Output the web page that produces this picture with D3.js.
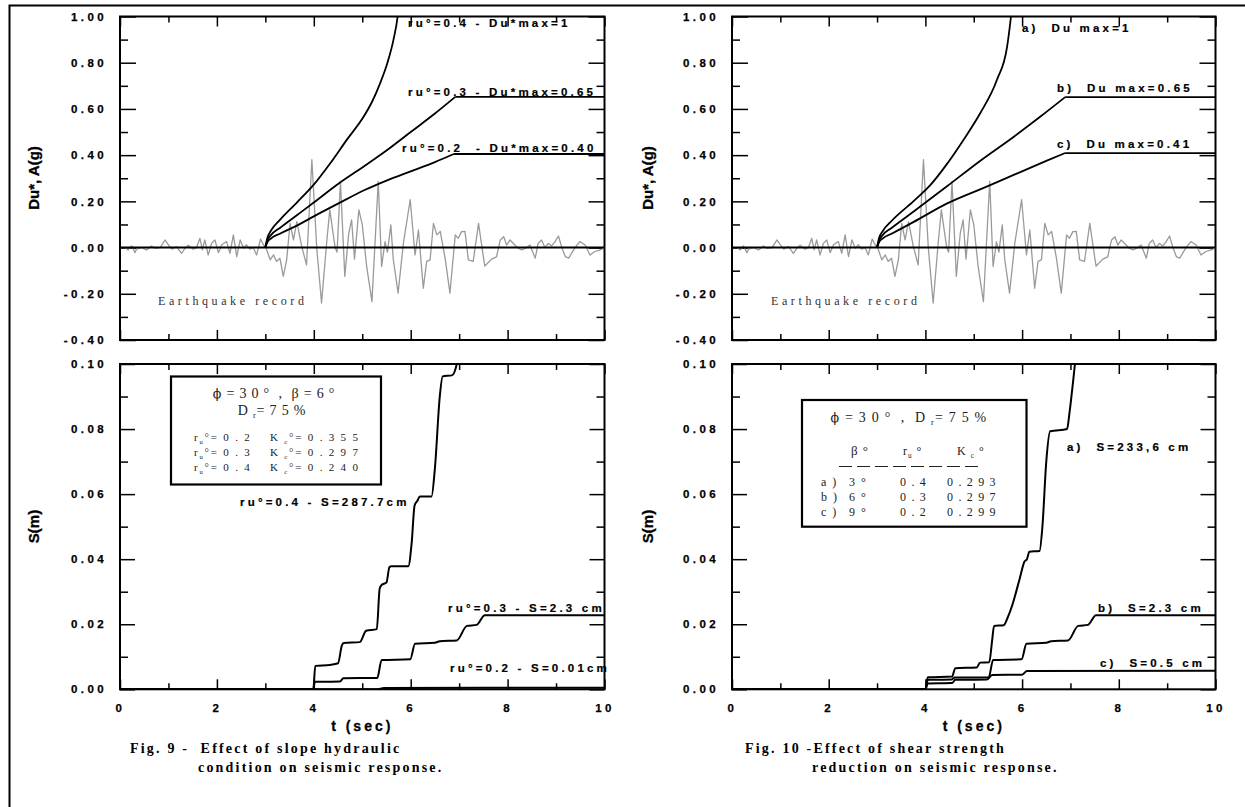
<!DOCTYPE html>
<html>
<head>
<meta charset="utf-8">
<script src="https://cdn.jsdelivr.net/npm/d3@7"></script>
<style>
body { margin: 0; background: #fff; }
svg { display: block; }
.tk text { font-family: "Liberation Sans", Arial, sans-serif; font-weight: bold; font-size: 11.5px; letter-spacing: 3.4px; fill: #000; stroke: #000; stroke-width: 0.25px; }
.tk line { stroke: #000; stroke-width: 1.5px; }
.ann { font-family: "Liberation Sans", Arial, sans-serif; font-weight: bold; font-size: 11.5px; letter-spacing: 3.2px; white-space: pre; stroke: #000; stroke-width: 0.2px; }
.ttl { font-family: "Liberation Sans", Arial, sans-serif; font-weight: bold; font-size: 15px; stroke: #000; stroke-width: 0.3px; }
.ser { font-family: "Liberation Serif", "Times New Roman", serif; fill: #222; white-space: pre; }
.phi { font-family: "DejaVu Serif", serif; fill: #222; }
.cap { font-family: "Liberation Serif", "Times New Roman", serif; font-weight: bold; font-size: 14px; letter-spacing: 2.2px; white-space: pre; }
</style>
</head>
<body>
<svg id="chart"></svg>
<script>
// ---- data ----
// acceleration record (g), t in s
const quakeRecord = [
  [0,0],[0.10,0.0],[0.17,-0.01],[0.24,0.007],[0.31,-0.022],[0.34,-0.007],[0.45,0],[0.55,-0.01],
  [0.65,0.007],[0.72,-0.003],[0.83,0],[0.93,0.033],[1.0,0.012],[1.07,-0.007],[1.17,0.004],
  [1.27,-0.025],[1.34,-0.003],[1.41,0.01],[1.51,-0.007],[1.58,0.0],[1.65,0.04],[1.70,-0.01],
  [1.75,0.033],[1.82,-0.032],[1.89,0.018],[1.96,0.033],[2.03,-0.022],[2.10,0.012],[2.20,0.026],
  [2.27,-0.025],[2.34,0.055],[2.41,-0.039],[2.48,0.033],[2.55,-0.003],[2.61,0.012],[2.68,-0.007],
  [2.75,0.0],[2.82,-0.032],[2.90,0.037],[2.96,0.012],[3.01,0],[3.10,-0.053],[3.17,-0.032],
  [3.23,-0.06],[3.30,-0.046],[3.37,-0.125],[3.44,-0.053],[3.51,0.105],[3.58,0.033],[3.65,0.112],
  [3.75,0.005],[3.85,-0.075],[3.96,0.38],[4.06,0.0],[4.16,-0.24],[4.27,0.033],[4.33,0.163],
  [4.44,0.0],[4.48,-0.02],[4.55,0.286],[4.64,-0.125],[4.72,0.06],[4.78,0.12],[4.84,-0.05],
  [4.93,0.163],[5.0,0.1],[5.09,-0.08],[5.2,-0.234],[5.33,0.286],[5.40,-0.082],[5.47,0.026],
  [5.52,-0.02],[5.59,0.098],[5.64,-0.05],[5.74,-0.197],[5.85,0.02],[5.99,0.207],[6.09,-0.032],
  [6.16,0.076],[6.26,-0.176],[6.33,-0.06],[6.40,-0.053],[6.47,0.105],[6.54,0.055],[6.61,0.07],
  [6.71,-0.046],[6.81,-0.197],[6.92,0.055],[6.98,0.04],[7.05,0.069],[7.12,0.07],[7.19,-0.053],
  [7.29,-0.06],[7.40,0.105],[7.50,-0.04],[7.53,-0.08],[7.67,-0.05],[7.77,-0.04],[7.85,0.033],
  [7.92,0.047],[7.98,0.011],[8.05,0.033],[8.15,0.011],[8.22,-0.003],[8.29,-0.01],[8.39,0.0],
  [8.46,0.011],[8.57,-0.046],[8.63,0.018],[8.70,0.033],[8.77,0.0],[8.84,0.018],[8.91,0.007],
  [8.98,0.026],[9.05,0.05],[9.12,0.0],[9.19,-0.039],[9.26,-0.046],[9.39,0.0],[9.49,0.026],
  [9.60,0.011],[9.70,-0.032],[9.80,-0.017],[9.91,-0.01],[10,0]
];

// Fig. 9 top: Du* for ru = 0.4, 0.3, 0.2
const duRu04 = [[3,0],[3.04,0.04],[3.12,0.075],[3.3,0.12],[3.65,0.195],[3.99,0.27],[4.34,0.365],
  [4.68,0.466],[5.03,0.567],[5.2,0.63],[5.37,0.712],[5.52,0.80],[5.645,0.90],[5.73,1.0],[5.76,1.06]];
const duRu03 = [[3,0],[3.04,0.03],[3.12,0.055],[3.3,0.085],[3.65,0.14],[4.0,0.195],[4.5,0.275],
  [5.06,0.355],[5.5,0.42],[6.0,0.50],[6.5,0.58],[6.92,0.652]];
const duRu02 = [[3,0],[3.04,0.022],[3.12,0.04],[3.3,0.06],[3.65,0.095],[4.0,0.135],[4.5,0.19],
  [5.06,0.25],[5.5,0.29],[6.0,0.33],[6.5,0.37],[6.89,0.405]];
const duMax9 = [1.0, 0.652, 0.405];

// Fig. 10 top: Du for cases a, b, c
const duCaseA = [[3,0],[3.04,0.04],[3.12,0.072],[3.3,0.115],[3.75,0.2],[4.10,0.27],[4.44,0.36],
  [4.79,0.467],[5.13,0.58],[5.48,0.726],[5.69,0.87],[5.77,1.0],[5.8,1.06]];
const duCaseB = [[3,0],[3.04,0.03],[3.12,0.055],[3.3,0.085],[3.75,0.155],[4.44,0.264],[5.13,0.375],
  [5.83,0.48],[6.38,0.567],[6.89,0.651]];
const duCaseC = [[3,0],[3.04,0.022],[3.12,0.04],[3.3,0.06],[3.75,0.11],[4.44,0.19],[5.34,0.27],
  [6.0,0.33],[6.5,0.375],[6.89,0.409]];
const duMax10 = [1.0, 0.651, 0.409];

// Fig. 9 bottom: cumulative displacement S (m)
const sRu04 = [[0,0],[3.99,0],[4.03,0.0072],[4.33,0.0075],[4.50,0.0080],[4.58,0.0135],[4.62,0.0142],
  [4.95,0.0145],[5.08,0.0180],[5.30,0.0185],[5.36,0.0310],[5.40,0.0321],[5.50,0.0328],[5.56,0.0375],
  [5.60,0.0378],[5.95,0.0378],[6.02,0.0450],[6.08,0.0565],[6.14,0.0580],[6.19,0.0593],[6.43,0.0593],
  [6.50,0.068],[6.60,0.090],[6.66,0.0962],[6.85,0.0965],[6.95,0.100],[6.98,0.104]];
const sRu03 = [[0,0],[3.99,0],[4.02,0.0023],[4.54,0.0024],[4.61,0.0034],[5.31,0.0035],[5.40,0.0090],
  [5.99,0.0092],[6.09,0.0140],[6.50,0.0143],[6.60,0.0148],[6.95,0.0150],[7.16,0.0195],[7.36,0.0198],
  [7.53,0.0228],[10,0.0228]];
const sRu02 = [[0,0],[5.3,0],[5.45,0.0004],[10,0.0005]];

// Fig. 10 bottom
const sCaseA = [[0,0],[4.0,0],[4.05,0.0037],[4.55,0.0039],[4.62,0.0065],[5.06,0.0067],[5.13,0.0082],
  [5.32,0.0083],[5.38,0.015],[5.42,0.0195],[5.62,0.0197],[5.70,0.022],[5.80,0.026],[5.95,0.034],
  [6.05,0.0393],[6.10,0.040],[6.15,0.0423],[6.36,0.0425],[6.42,0.05],[6.50,0.07],[6.58,0.0793],
  [6.93,0.080],[6.98,0.085],[7.05,0.094],[7.1,0.101],[7.12,0.104]];
const sCaseB = [[0,0],[4.0,0],[4.05,0.0029],[4.54,0.0030],[4.61,0.0036],[5.31,0.0037],[5.40,0.0090],
  [5.99,0.0092],[6.09,0.0140],[6.50,0.0143],[6.60,0.0148],[6.95,0.0150],[7.16,0.0195],[7.36,0.0198],
  [7.53,0.0228],[10,0.0228]];
const sCaseC = [[0,0],[4.0,0],[4.05,0.0018],[4.55,0.0019],[4.62,0.0029],[5.27,0.0030],[5.38,0.0044],
  [6.0,0.0045],[6.1,0.0056],[10,0.0057]];

const xTicksMajor = [0, 2, 4, 6, 8, 10];
const xTicksMinor = [1, 3, 5, 7, 9];

// ---- layout ----
const W = 1245, H = 807;
const svg = d3.select("#chart").attr("width", W).attr("height", H);

svg.append("path")
  .attr("d", "M9.5,807V5.5H1245")
  .attr("fill", "none").attr("stroke", "#000").attr("stroke-width", 2);

let clipN = 0;
function panel(xr, yr, yDom, step, majLen, showX) {
  const x = d3.scaleLinear().domain([0, 10]).range(xr);
  const y = d3.scaleLinear().domain(yDom).range([yr[1], yr[0]]);
  const g = svg.append("g");
  const n = Math.round((yDom[1] - yDom[0]) / step);
  const yAll = d3.range(n + 1).map(i => +(yDom[0] + i * step).toFixed(4));
  const yMaj = yAll.filter((d, i) => i % 2 == 0);
  const yMin = yAll.filter((d, i) => i % 2 == 1);

  const ax = (a, tr) => g.append("g").attr("class", "tk").attr("transform", tr).call(a)
    .call(s => s.select(".domain").remove())
    .call(s => s.attr("font-family", null).attr("font-size", null));

  ax(d3.axisLeft(y).tickValues(yMaj).tickSizeInner(-majLen).tickSizeOuter(0).tickPadding(13)
      .tickFormat(d => d.toFixed(2)), `translate(${xr[0]},0)`);
  ax(d3.axisLeft(y).tickValues(yMin).tickSizeInner(-8).tickSizeOuter(0).tickFormat(""), `translate(${xr[0]},0)`);
  ax(d3.axisRight(y).tickValues(yMaj).tickSizeInner(-majLen).tickSizeOuter(0).tickFormat(""), `translate(${xr[1]},0)`);
  ax(d3.axisRight(y).tickValues(yMin).tickSizeInner(-8).tickSizeOuter(0).tickFormat(""), `translate(${xr[1]},0)`);
  ax(d3.axisTop(x).tickValues(xTicksMajor).tickSizeInner(-10).tickSizeOuter(0).tickFormat(""), `translate(0,${yr[0]})`);
  ax(d3.axisTop(x).tickValues(xTicksMinor).tickSizeInner(-6).tickSizeOuter(0).tickFormat(""), `translate(0,${yr[0]})`);
  ax(d3.axisBottom(x).tickValues(xTicksMajor).tickSizeInner(-10).tickSizeOuter(0).tickPadding(15)
      .tickFormat(showX ? d => d : ""), `translate(0,${yr[1]})`);
  ax(d3.axisBottom(x).tickValues(xTicksMinor).tickSizeInner(-6).tickSizeOuter(0).tickFormat(""), `translate(0,${yr[1]})`);

  const id = "clip" + (clipN++);
  svg.append("clipPath").attr("id", id).append("rect")
    .attr("x", xr[0]).attr("y", yr[0]).attr("width", xr[1] - xr[0]).attr("height", yr[1] - yr[0]);
  const plot = svg.append("g").attr("clip-path", `url(#${id})`);

  g.append("rect").attr("x", xr[0]).attr("y", yr[0]).attr("width", xr[1] - xr[0]).attr("height", yr[1] - yr[0])
    .attr("fill", "none").attr("stroke", "#000").attr("stroke-width", 2);
  return {x, y, plot, g};
}

function line(p, data, curve, color, width) {
  p.plot.append("path").datum(data)
    .attr("d", d3.line().x(d => p.x(d[0])).y(d => p.y(d[1])).curve(curve))
    .attr("fill", "none").attr("stroke", color).attr("stroke-width", width).attr("stroke-linejoin", "round");
}

function topPanel(xr, curves, maxes) {
  const p = panel(xr, [16.5, 340], [-0.4, 1.0], 0.1, 16, false);
  line(p, quakeRecord, d3.curveLinear, "#9a9a9a", 1.3);
  line(p, [[0, 0], [10, 0]], d3.curveLinear, "#000", 2);
  curves.forEach((c, i) => {
    line(p, c, d3.curveMonotoneX, "#000", 1.8);
    const last = c[c.length - 1];
    if (i > 0) line(p, [last, [10, maxes[i]]], d3.curveLinear, "#000", 1.8);
  });
  return p;
}

function botPanel(xr, curves) {
  const p = panel(xr, [364, 689.3], [0, 0.1], 0.01, 15, true);
  curves.forEach(c => line(p, c, d3.curveMonotoneX, "#000", 2));
  return p;
}

const L = [120, 604.5], R = [732, 1215.5];
const tl = topPanel(L, [duRu04, duRu03, duRu02], duMax9);
const tr = topPanel(R, [duCaseA, duCaseB, duCaseC], duMax10);
const bl = botPanel(L, [sRu02, sRu03, sRu04]);
const br = botPanel(R, [sCaseC, sCaseB, sCaseA]);

// ---- text ----
function txt(cls, x, y, s, anchor) {
  return svg.append("text").attr("class", cls).attr("x", x).attr("y", y)
    .attr("text-anchor", anchor || "start").text(s);
}

[[34, L], [648, R]].forEach(([ax, xr]) => {
  svg.append("text").attr("class", "ttl").attr("transform", `translate(${ax + 5},178) rotate(-90)`)
    .attr("text-anchor", "middle").text("Du*, A(g)");
  svg.append("text").attr("class", "ttl").attr("transform", `translate(${ax + 5},526.5) rotate(-90)`)
    .attr("text-anchor", "middle").text("S(m)");
  svg.append("text").attr("class", "ttl").attr("x", (xr[0] + xr[1]) / 2).attr("y", 731)
    .attr("text-anchor", "middle").style("font-size", "14px").style("letter-spacing", "3px").text("t (sec)");
});

txt("ann", 408, 27, "ru°=0.4 - Du*max=1");
txt("ann", 408, 96, "ru°=0.3 - Du*max=0.65");
txt("ann", 402, 152, "ru°=0.2  - Du*max=0.40");
txt("ann", 1022, 32, "a)  Du max=1");
txt("ann", 1057, 92, "b)  Du max=0.65");
txt("ann", 1057, 148, "c)  Du max=0.41");

txt("ann", 240, 506, "ru°=0.4 - S=287.7cm");
txt("ann", 448, 612, "ru°=0.3 - S=2.3 cm");
txt("ann", 450, 672, "ru°=0.2 - S=0.01cm");
txt("ann", 1067, 451, "a)  S=233,6 cm");
txt("ann", 1098, 612, "b)  S=2.3 cm");
txt("ann", 1100, 667, "c)  S=0.5 cm");

[158, 771].forEach(x0 => {
  txt("ser", x0, 305, "Earthquake record").style("font-size", "12px").style("letter-spacing", "3.6px").style("fill", "#333");
});

// legend box, Fig. 9
svg.append("rect").attr("x", 171).attr("y", 376.5).attr("width", 210).attr("height", 108)
  .attr("fill", "#fff").attr("stroke", "#000").attr("stroke-width", 2.2);
// parts: [text, subscript?, back-to-baseline?, phi-glyph?]
function serTxt(x, y, parts, size, ls, anchor) {
  const t = svg.append("text").attr("class", "ser").attr("x", x).attr("y", y)
    .attr("text-anchor", anchor || "start").style("font-size", size + "px").style("letter-spacing", ls + "px");
  parts.forEach(pt => {
    const s = t.append("tspan").text(pt[0]);
    if (pt[1]) s.style("font-size", (size * 0.6) + "px").attr("dy", 3);
    if (pt[2]) s.attr("dy", -3);
    if (pt[3]) s.attr("class", "phi").style("font-size", (size * 0.9) + "px");
  });
  return t;
}
serTxt(274, 398, [["ϕ", 0, 0, 1], [" = 3 0 °  ,  β = 6 °"]], 14, 0.8, "middle");
serTxt(272, 415, [["D "], ["r", 1], ["= 7 5 %", 0, 1]], 14, 0.8, "middle");
[["0.2", "0.355"], ["0.3", "0.297"], ["0.4", "0.240"]].forEach((r, i) => {
  serTxt(194, 441 + i * 15, [["r"], ["u", 1], ["°= " + r[0].split("").join(" "), 0, 1]], 11, 1.8);
  serTxt(270, 441 + i * 15, [["K "], ["c", 1], ["°= " + r[1].split("").join(" "), 0, 1]], 11, 1.8);
});

// legend box, Fig. 10
svg.append("rect").attr("x", 802).attr("y", 400).attr("width", 224.5).attr("height", 126.7)
  .attr("fill", "#fff").attr("stroke", "#000").attr("stroke-width", 2.2);
serTxt(909, 421.5, [["ϕ", 0, 0, 1], [" = 3 0 °  ,  D "], ["r", 1], ["= 7 5 %", 0, 1]], 14, 1.2, "middle");
serTxt(851, 455, [["β °"]], 13, 1);
serTxt(903, 455, [["r"], ["u", 1], [" °", 0, 1]], 12, 1);
serTxt(957, 455, [["K "], ["c", 1], [" °", 0, 1]], 12, 1);
svg.append("line").attr("x1", 839).attr("x2", 981).attr("y1", 466.5).attr("y2", 466.5)
  .attr("stroke", "#222").attr("stroke-width", 1).attr("stroke-dasharray", "13,5");
[["a )", "3 °", "0.4", "0.293"], ["b )", "6 °", "0.3", "0.297"], ["c )", "9 °", "0.2", "0.299"]].forEach((r, i) => {
  const yy = 485.5 + i * 15;
  serTxt(821, yy, [[r[0]]], 12, 1.5);
  serTxt(849, yy, [[r[1]]], 12, 1.5);
  serTxt(900, yy, [[r[2].split("").join(" ")]], 12, 1.2);
  serTxt(947, yy, [[r[3].split("").join(" ")]], 12, 1.2);
});

// captions
txt("cap", 130, 753, "Fig. 9 -  Effect of slope hydraulic");
txt("cap", 198, 771.5, "condition on seismic response.");
txt("cap", 745, 753, "Fig. 10 -Effect of shear strength");
txt("cap", 812, 771.5, "reduction on seismic response.");
</script>
</body>
</html>
